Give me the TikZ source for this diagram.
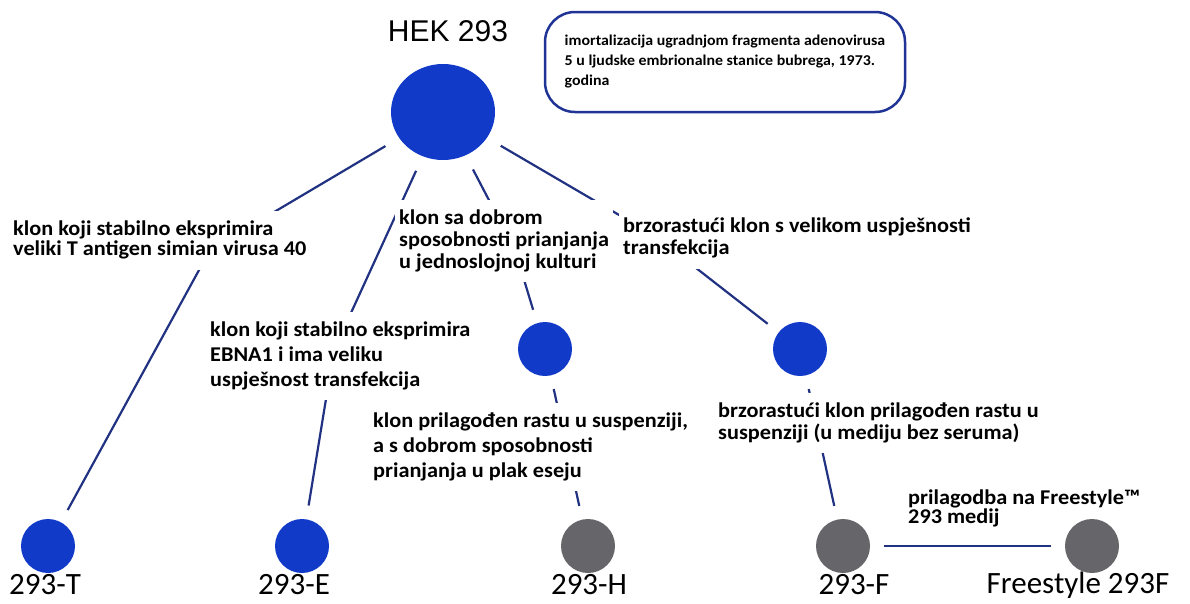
\documentclass[tikz,border=0pt]{standalone}
\usepackage{fontspec}
\setmainfont{Carlito}
\newfontfamily\hekfont{Liberation Sans}
\newfontfamily\lblfont[FakeStretch=1.06]{Carlito}
\usetikzlibrary{positioning,backgrounds,shapes.geometric}
\definecolor{cellblue}{RGB}{18,58,200}
\definecolor{cellgray}{RGB}{102,102,106}
\definecolor{linkblue}{RGB}{34,50,130}
\definecolor{boxblue}{RGB}{32,52,150}
\tikzset{
  cell/.style={circle,fill=cellblue,minimum size=54pt,inner sep=0pt,outer sep=14pt},
  gcell/.style={cell,fill=cellgray},
  lbl/.style={font=\lblfont\bfseries\fontsize{21}{#1}\selectfont,align=left,fill=white,
    inner xsep=4pt,inner ysep=10pt,anchor=north west},
  lbl/.default=22,
  cname/.style={font=\fontsize{31}{36}\selectfont,inner sep=0pt},
  link/.style={draw=linkblue,line width=2.2pt},
  infobox/.style={draw=boxblue,line width=2.5pt,rounded corners=30pt,minimum width=360pt,
    minimum height=100pt,align=left,
    font=\lblfont\bfseries\fontsize{15}{20}\selectfont},
}

\begin{document}
\begin{tikzpicture}[x=1pt,y=-1pt]
\useasboundingbox (0,0) rectangle (1190,603);

\node[font=\hekfont\fontsize{30}{36}\selectfont] (hektxt) at (448,31) {HEK 293};
\node[ellipse,fill=cellblue,minimum width=104pt,minimum height=96pt,inner sep=0pt,
  outer sep=16pt] (hek) at (443,112) {};
\node[infobox] (info) at (725,62)
  {imortalizacija ugradnjom fragmenta adenovirusa\\
   5 u ljudske embrionalne stanice bubrega, 1973.\\ godina};

\node[cell] (midH) at (545,349) {};
\node[cell] (midF) at (800,349) {};
\node[cell] (t293) at (48,546) {};
\node[cell] (e293) at (302,546) {};
\node[gcell] (h293) at (588,546) {};
\node[gcell] (f293) at (843,546) {};
\node[gcell] (fs293) at (1092,546) {};

\node[cname] at (45,585) {293-T};
\node[cname] at (294,585) {293-E};
\node[cname] at (589,585) {293-H};
\node[cname] at (854,585) {293-F};
\node[cname] at (1078,585) {Freestyle 293F};

\node[lbl=20] (lblT) at (9,211)
  {klon koji stabilno eksprimira\\ veliki T antigen simian virusa 40};
\node[lbl=25] (lblE) at (206,312)
  {klon koji stabilno eksprimira\\ EBNA1 i ima veliku\\ uspješnost transfekcija};
\node[lbl] (lblH) at (395,200)
  {klon sa dobrom\\ sposobnosti prianjanja\\ u jednoslojnoj kulturi};
\node[lbl] (lblF) at (619,208)
  {brzorastući klon s velikom uspješnosti\\ transfekcija};
\node[lbl=25] (lblH2) at (369,403)
  {klon prilagođen rastu u suspenziji,\\ a s dobrom sposobnosti\\ prianjanja u plak eseju};
\node[lbl] (lblF2) at (714,393)
  {brzorastući klon prilagođen rastu u\\ suspenziji (u mediju bez seruma)};
\node[lbl=19,fill=none] (lblFS) at (904,480) {prilagodba na Freestyle™\\ 293 medij};

\coordinate (kT) at (210,250);
\coordinate (kE) at (334,350);
\coordinate (kH) at (515,250);
\coordinate (kF) at (655,236);

\begin{scope}[on background layer]
\draw[link] (hek) -- (kT) -- (t293);
\draw[link] (hek) -- (kE) -- (e293);
\draw[link] (hek) -- (kH) -- (midH);
\draw[link] (hek) -- (kF) -- (midF);
\draw[link] (midH) -- (h293);
\draw[link] (midF) -- (f293);
\draw[link] (f293) -- (fs293);
\end{scope}
\end{tikzpicture}
\end{document}
